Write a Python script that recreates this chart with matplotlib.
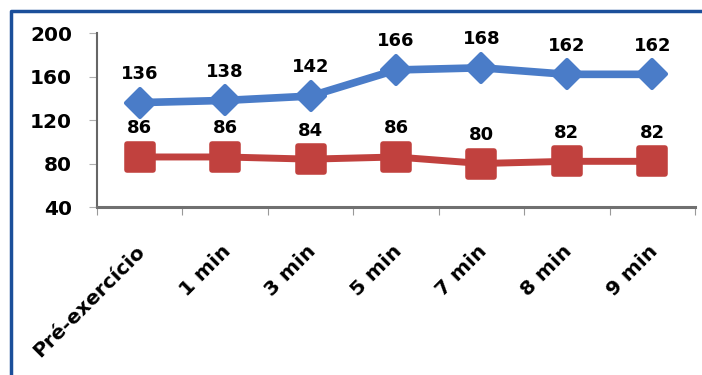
import matplotlib.pyplot as plt
from matplotlib.lines import Line2D
from matplotlib.markers import MarkerStyle

plt.rcParams['font.family'] = ['DejaVu Sans']
plt.rcParams['font.weight'] = 'bold'

categorias = ["Pré-exercício", "1 min", "3 min", "5 min", "7 min", "8 min", "9 min"]
pas = [136, 138, 142, 166, 168, 162, 162]
fc = [86, 86, 84, 86, 80, 82, 82]
yticks = [40, 80, 120, 160, 200]

W, H = 702, 375
fig = plt.figure(figsize=(W / 100, H / 100), dpi=100)
fig.patch.set_facecolor("white")

# moldura azul: lado esquerdo e de cima
x0, y0 = 11 / W, 1 - 11 / H
fig.add_artist(Line2D([x0, x0, 0.9999], [0, y0, y0], color="#1b4f9a", linewidth=2.5,
                      solid_joinstyle="round", transform=fig.transFigure))

ax = fig.add_axes([97 / W, 1 - 207 / H, (695 - 97) / W, (207 - 33) / H])
x = list(range(len(categorias)))

diamante = MarkerStyle("D", joinstyle="round")
quadrado = MarkerStyle("s", joinstyle="round")
ax.plot(x, pas, color="#4a7cc8", linewidth=5.5, marker=diamante, markersize=14,
        markerfacecolor="#4a7cc8", markeredgecolor="#4a7cc8", markeredgewidth=3,
        solid_joinstyle="round", zorder=3)
ax.plot(x, fc, color="#c1413e", linewidth=5, marker=quadrado, markersize=19,
        markerfacecolor="#c1413e", markeredgecolor="#c1413e", markeredgewidth=4,
        solid_joinstyle="round", zorder=3)

for serie in (pas, fc):
    for xi, v in zip(x, serie):
        ax.annotate(str(v), (xi, v), xytext=(0, 17), textcoords="offset points",
                    ha="center", va="baseline", fontsize=13, fontweight="bold")

# rótulos do eixo x inclinados a 45 graus
for xi, nome in zip(x, categorias):
    ax.annotate(nome, (xi, 0), xycoords=("data", "axes fraction"),
                xytext=(-3, -25), textcoords="offset points",
                rotation=45, rotation_mode="anchor", ha="right", va="top",
                fontsize=14.5, fontweight="bold", annotation_clip=False)

ax.set_xlim(-0.5, len(categorias) - 0.5)
ax.set_ylim(40, 200)
ax.set_yticks(yticks)
ax.set_yticklabels([str(t) for t in yticks], fontsize=14.5, fontweight="bold")
ax.set_xticks([i - 0.5 for i in range(len(categorias) + 1)])
ax.set_xticklabels([])
ax.tick_params(axis="x", length=6, color="#999999", direction="out")
ax.tick_params(axis="y", length=6, color="#b0b0b0", pad=12)

for s in ["top", "right"]:
    ax.spines[s].set_visible(False)
ax.spines["left"].set_color("#666666")
ax.spines["bottom"].set_color("#707070")
ax.spines["left"].set_linewidth(1.5)
ax.spines["bottom"].set_linewidth(2.2)

fig.savefig("out.png", dpi=100)
